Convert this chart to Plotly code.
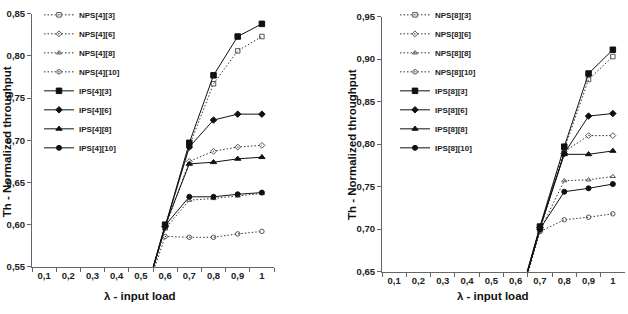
import plotly.graph_objects as go

loads = ["0,1", "0,2", "0,3", "0,4", "0,5", "0,6", "0,7", "0,8", "0,9", "1"]

# Left panel (N = 4)
nps4_3 = [0.1, 0.2, 0.3, 0.4, 0.5, 0.597, 0.693, 0.767, 0.806, 0.823]
nps4_6 = [0.1, 0.2, 0.3, 0.4, 0.5, 0.596, 0.675, 0.687, 0.692, 0.694]
nps4_8 = [0.1, 0.2, 0.3, 0.4, 0.5, 0.595, 0.629, 0.631, 0.634, 0.637]
nps4_10 = [0.1, 0.2, 0.3, 0.4, 0.5, 0.586, 0.585, 0.585, 0.589, 0.592]
ips4_3 = [0.1, 0.2, 0.3, 0.4, 0.5, 0.600, 0.697, 0.777, 0.823, 0.838]
ips4_6 = [0.1, 0.2, 0.3, 0.4, 0.5, 0.598, 0.692, 0.724, 0.731, 0.731]
ips4_8 = [0.1, 0.2, 0.3, 0.4, 0.5, 0.599, 0.672, 0.674, 0.678, 0.680]
ips4_10 = [0.1, 0.2, 0.3, 0.4, 0.5, 0.599, 0.633, 0.633, 0.636, 0.638]

# Right panel (N = 8)
nps8_3 = [0.1, 0.2, 0.3, 0.4, 0.5, 0.6, 0.700, 0.794, 0.876, 0.903]
nps8_6 = [0.1, 0.2, 0.3, 0.4, 0.5, 0.6, 0.699, 0.791, 0.810, 0.810]
nps8_8 = [0.1, 0.2, 0.3, 0.4, 0.5, 0.6, 0.698, 0.757, 0.758, 0.762]
nps8_10 = [0.1, 0.2, 0.3, 0.4, 0.5, 0.6, 0.697, 0.711, 0.714, 0.718]
ips8_3 = [0.1, 0.2, 0.3, 0.4, 0.5, 0.6, 0.703, 0.797, 0.883, 0.911]
ips8_6 = [0.1, 0.2, 0.3, 0.4, 0.5, 0.6, 0.702, 0.789, 0.833, 0.836]
ips8_8 = [0.1, 0.2, 0.3, 0.4, 0.5, 0.6, 0.701, 0.788, 0.788, 0.792]
ips8_10 = [0.1, 0.2, 0.3, 0.4, 0.5, 0.6, 0.700, 0.744, 0.748, 0.753]

W, H = 628, 314
FONT = "Liberation Sans, Arial, sans-serif"


def py(p):
    """pixel row -> paper y"""
    return (H - p) / H


fig = go.Figure()

def add(name, y, dotted, symbol, xa, ya, legend):
    col = "#555" if dotted else "#111"
    fig.add_trace(go.Scatter(
        x=loads, y=y, name=name, mode="lines+markers",
        xaxis=xa, yaxis=ya, legend=legend,
        line=dict(color="#333" if dotted else "#111", width=1,
                  dash="1.5px,2px" if dotted else "solid"),
        marker=dict(symbol=symbol,
                    size=(4.5 if dotted else 5.5) if ("square" in symbol or "triangle" in symbol) else (4.5 if dotted else 5),
                    color=col, line=dict(width=1, color=col)),
    ))

for n, (a, b, c, d, e, f, g, h), xa, ya, lg in [
    (4, (nps4_3, nps4_6, nps4_8, nps4_10, ips4_3, ips4_6, ips4_8, ips4_10), "x", "y", "legend"),
    (8, (nps8_3, nps8_6, nps8_8, nps8_10, ips8_3, ips8_6, ips8_8, ips8_10), "x2", "y2", "legend2"),
]:
    add(f"NPS[{n}][3]", a, True, "square-open", xa, ya, lg)
    add(f"NPS[{n}][6]", b, True, "diamond-open", xa, ya, lg)
    add(f"NPS[{n}][8]", c, True, "triangle-up-open", xa, ya, lg)
    add(f"NPS[{n}][10]", d, True, "circle-open", xa, ya, lg)
    add(f"IPS[{n}][3]", e, False, "square", xa, ya, lg)
    add(f"IPS[{n}][6]", f, False, "diamond", xa, ya, lg)
    add(f"IPS[{n}][8]", g, False, "triangle-up", xa, ya, lg)
    add(f"IPS[{n}][10]", h, False, "circle", xa, ya, lg)

axis_color = "#666"
tickfont = dict(family=FONT, size=9.5, color="#222", weight="bold")
xcommon = dict(type="category", categoryorder="array", categoryarray=loads,
               range=[-0.5, 9.5], tickson="boundaries", ticks="outside", ticklen=4,
               tickcolor=axis_color, showline=True, linecolor=axis_color, linewidth=1,
               showgrid=False, zeroline=False, tickfont=tickfont)
ycommon = dict(ticks="outside", ticklen=4, tickcolor=axis_color, showline=True,
               linecolor=axis_color, linewidth=1, showgrid=False, zeroline=False,
               tickformat=".2f", dtick=0.05, tickfont=tickfont)

legfont = dict(family=FONT, size=8, color="#222", weight="bold")
fig.update_layout(
    width=W, height=H, margin=dict(l=0, r=0, t=0, b=0),
    paper_bgcolor="white", plot_bgcolor="white",
    separators=", ",
    xaxis=dict(domain=[32 / W, 274 / W], anchor="y", **xcommon),
    yaxis=dict(domain=[py(270), py(6)], anchor="x", range=[0.55, 0.85],
               tick0=0.55, **ycommon),
    xaxis2=dict(domain=[382 / W, 625 / W], anchor="y2", **xcommon),
    yaxis2=dict(domain=[py(275), py(9)], anchor="x2", range=[0.65, 0.95],
                tick0=0.65, **ycommon),
    legend=dict(x=39 / W, y=py(-8), xanchor="left", yanchor="top", maxheight=300,
                bgcolor="rgba(0,0,0,0)", itemwidth=30, font=legfont),
    legend2=dict(x=395 / W, y=py(-8), xanchor="left", yanchor="top", maxheight=300,
                 bgcolor="rgba(0,0,0,0)", itemwidth=30, font=legfont),
    showlegend=True,
)

titlefont = dict(family=FONT, size=11.5, color="#111", weight="bold")
fig.add_annotation(text="λ - input load", x=140 / W, y=py(300), xref="paper", yref="paper",
                   showarrow=False, font=titlefont, xanchor="center", yanchor="middle")
fig.add_annotation(text="λ - input load", x=493 / W, y=py(300), xref="paper", yref="paper",
                   showarrow=False, font=titlefont, xanchor="center", yanchor="middle")
fig.add_annotation(text="Th - Normalized throughput", x=7 / W, y=py(140), xref="paper",
                   yref="paper", showarrow=False, font=titlefont, textangle=-90,
                   xanchor="center", yanchor="middle")
fig.add_annotation(text="Th - Normalized throughput", x=352 / W, y=py(143), xref="paper",
                   yref="paper", showarrow=False, font=titlefont, textangle=-90,
                   xanchor="center", yanchor="middle")

fig.write_html("out.html")
